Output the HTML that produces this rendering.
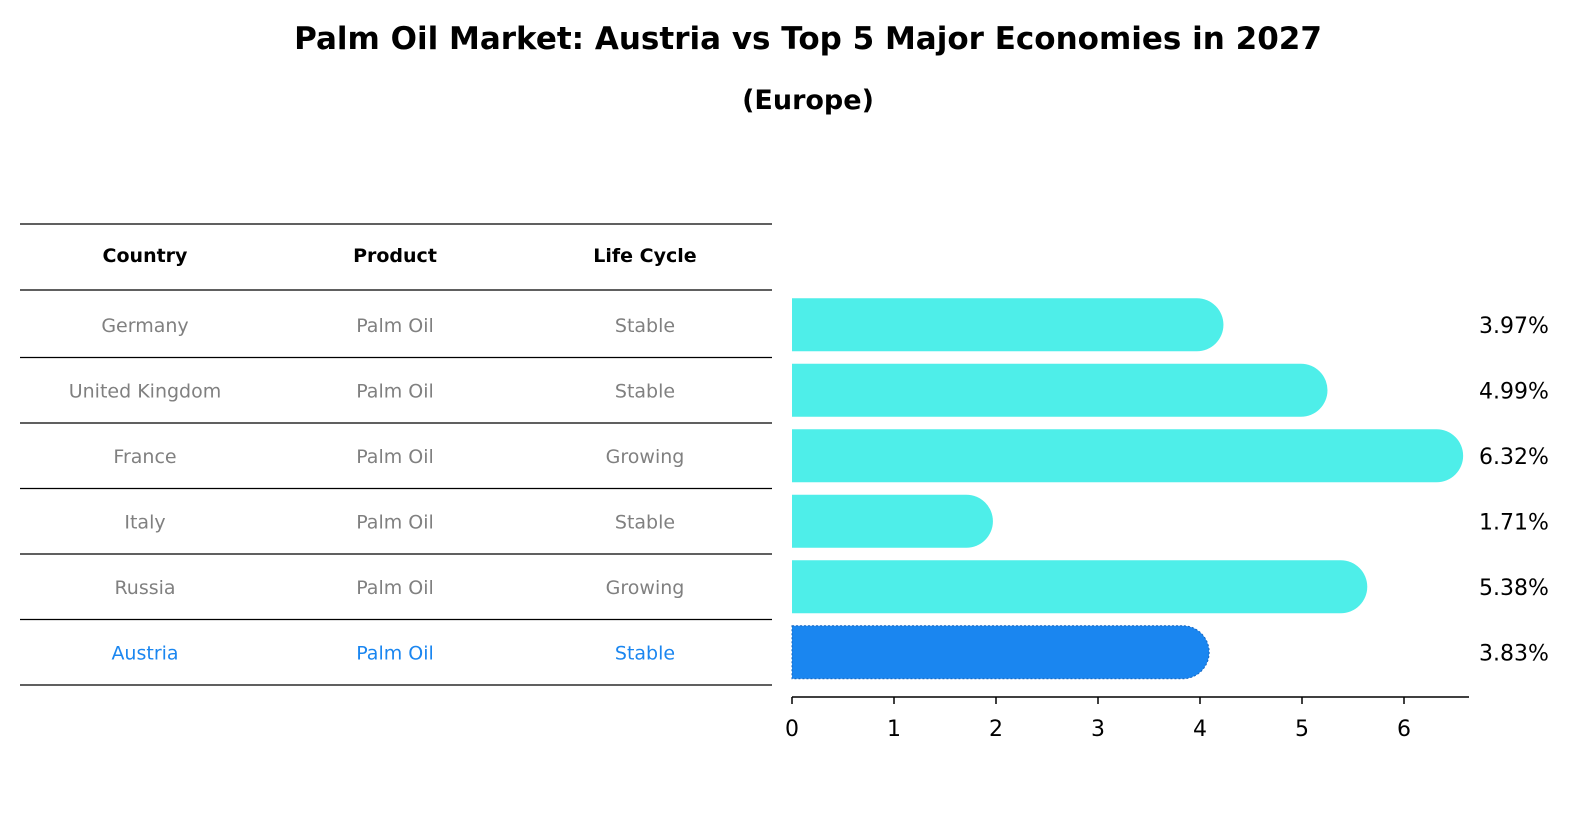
<!DOCTYPE html>
<html><head><meta charset="utf-8"><style>
body{margin:0;background:#fff;font-family:"DejaVu Sans","Liberation Sans",sans-serif}
svg{display:block}
</style></head><body>
<svg width="1586" height="823" viewBox="0 0 1586 823">
<text x="808" y="49" text-anchor="middle" font-size="31" font-weight="bold">Palm Oil Market: Austria vs Top 5 Major Economies in 2027</text>
<text x="808" y="109" text-anchor="middle" font-size="27" font-weight="bold">(Europe)</text>
<g id="table"></g>
<g id="bars"></g>
</svg>
<script>
const countries=["Germany","United Kingdom","France","Italy","Russia","Austria"];
const products=["Palm Oil","Palm Oil","Palm Oil","Palm Oil","Palm Oil","Palm Oil"];
const lifecycle=["Stable","Stable","Growing","Stable","Growing","Stable"];
const values=[3.97,4.99,6.32,1.71,5.38,3.83];
const valueLabels=["3.97%","4.99%","6.32%","1.71%","5.38%","3.83%"];
const ticks=[0,1,2,3,4,5,6];
const NS="http://www.w3.org/2000/svg";
const x0=792,ppu=102,rowTop=292,rowH=65.5,barH=53;
const xs=v=>x0+v*ppu;
const yc=i=>rowTop+rowH*i+rowH/2;
function mk(t,a,p){const e=document.createElementNS(NS,t);for(const k in a)e.setAttribute(k,a[k]);p.appendChild(e);return e;}
const tb=document.getElementById('table'),bg=document.getElementById('bars');
const lines=[224,290].concat(countries.map((c,i)=>rowTop+rowH*(i+1)));
lines.forEach(y=>{const l=mk('line',{x1:20,x2:772,y1:y,y2:y,stroke:'#000','stroke-width':1.2},tb);

});
const colX=[145,395,645];
["Country","Product","Life Cycle"].forEach((h,j)=>{const t=mk('text',{x:colX[j],y:262,'text-anchor':'middle','font-size':19,'font-weight':'bold'},tb);t.textContent=h;

});
countries.forEach((c,i)=>{
 const col=i===countries.length-1?'#1a86f0':'#808080';
 [c,products[i],lifecycle[i]].forEach((s,j)=>{const t=mk('text',{x:colX[j],y:yc(i)+7,'text-anchor':'middle','font-size':19,fill:col},tb);t.textContent=s;
 
 });
 const fill=i===countries.length-1?'#1a86f0':'#4eeee9';
 const w=xs(values[i])-x0, y=yc(i)-barH/2;
 const p=mk('path',{d:`M${x0},${y}h${w}a${barH/2},${barH/2} 0 0 1 0,${barH}h${-w}z`,fill:fill},bg);
 if(i===countries.length-1){p.setAttribute('stroke','#1565c0');p.setAttribute('stroke-dasharray','2,2');p.setAttribute('stroke-width','1');}
 
 
 const t=mk('text',{x:1479,y:yc(i)+8,'font-size':22},bg);t.textContent=valueLabels[i];
 
 
});
const ax=mk('line',{x1:x0,x2:1469,y1:697,y2:697,stroke:'#000','stroke-width':1.5},bg);


ticks.forEach(v=>{const l=mk('line',{x1:xs(v),x2:xs(v),y1:697,y2:704,stroke:'#000','stroke-width':1.5},bg);


const t=mk('text',{x:xs(v),y:736,'text-anchor':'middle','font-size':22},bg);t.textContent=v;

});
</script>
</body></html>
